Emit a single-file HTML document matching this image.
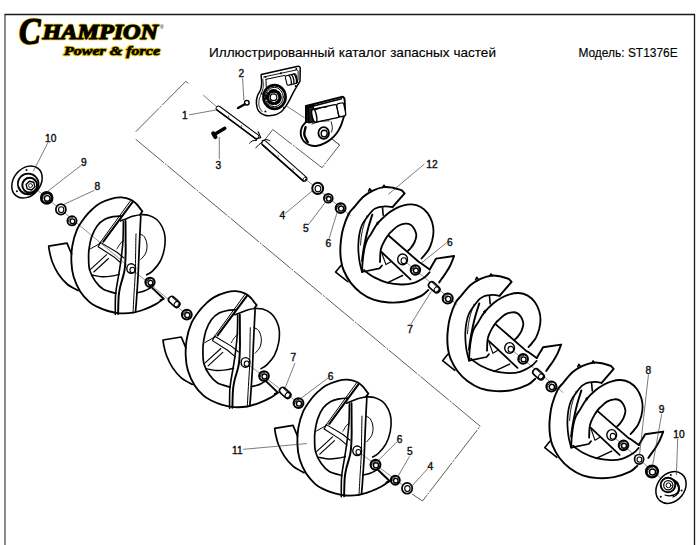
<!DOCTYPE html>
<html><head><meta charset="utf-8">
<style>
html,body{margin:0;padding:0;background:#fff;}
body{width:700px;height:545px;overflow:hidden;position:relative;}
svg{position:absolute;left:0;top:0;}
</style></head>
<body>
<svg width="700" height="545" viewBox="0 0 700 545">
<!-- frame -->
<path d="M5 545 V14.5" fill="none" stroke="#666" stroke-width="1.5"/>
<path d="M4.5 14.5 H694.5 V545" fill="none" stroke="#1a1a1a" stroke-width="1.3"/>
<!-- logo -->
<g font-family="Liberation Serif" font-weight="bold" font-style="italic">
<g fill="#000" stroke="#e8c800" stroke-width="2.4" stroke-linejoin="round">
<text x="19" y="44" font-size="38" textLength="21.5" lengthAdjust="spacingAndGlyphs">C</text>
<text x="42.5" y="39" font-size="20.5" textLength="115.5" lengthAdjust="spacingAndGlyphs">HAMPION</text>
<text x="64" y="55" font-size="13.5" textLength="96" lengthAdjust="spacingAndGlyphs">Power &amp; force</text>
</g>
<g fill="#000" stroke="#000" stroke-width="1.1" stroke-linejoin="round">
<text x="19" y="44" font-size="38" textLength="21.5" lengthAdjust="spacingAndGlyphs">C</text>
<text x="42.5" y="39" font-size="20.5" textLength="115.5" lengthAdjust="spacingAndGlyphs">HAMPION</text>
<text x="64" y="55" font-size="13.5" textLength="96" lengthAdjust="spacingAndGlyphs" stroke-width="0.6">Power &amp; force</text>
</g>
</g>
<text x="160" y="29" font-family="Liberation Sans" font-size="5" fill="#000">®</text>
<!-- header text -->
<text font-family="Liberation Sans" x="209" y="57.4" font-size="13.3" stroke="#000" stroke-width="0.15" textLength="287" lengthAdjust="spacingAndGlyphs">Иллюстрированный каталог запасных частей</text>
<text font-family="Liberation Sans" x="578.4" y="57.4" font-size="13.3" stroke="#000" stroke-width="0.15" textLength="99.3" lengthAdjust="spacingAndGlyphs">Модель: ST1376E</text>

<g id="diagram" fill="none" stroke="#000" stroke-linecap="round" stroke-linejoin="round">
<path d="M188.0,83.2 L185.7,81.4 L136.0,131.5" stroke-width="0.8" stroke-dasharray="36 2 1.2 2" stroke="#333"/>
<path d="M136.0,139.5 L480.2,426.2 L422.5,501.0 L412.3,494.2" stroke-width="0.8" stroke-dasharray="36 2 1.2 2" stroke="#333"/>
<path d="M265.4,139.1 L272.8,129.5 L322.0,167.7 L339.6,145.0 L325.0,133.5" stroke-width="0.8" stroke-dasharray="36 2 1.2 2" stroke="#333"/>
<path d="M203.5,95.3 L217.3,107.4" stroke-width="0.7" stroke="#444"/>
<path d="M285.7,105.5 L304.3,117.6" stroke-width="0.7" stroke="#444"/>
<path d="M328.0,135.7 L339.7,145.2" stroke-width="0.7" stroke="#444"/>
<path d="M27.5,181.8 L131.2,268.6" stroke-width="0.6" stroke="#444"/>
<path d="M131.2,268.6 L187.0,314.8" stroke-width="0.6" stroke="#444"/>
<path d="M245.5,362.4 L298.7,403.3" stroke-width="0.6" stroke="#444"/>
<path d="M357.2,450.8 L407.1,488.3" stroke-width="0.6" stroke="#444"/>
<path d="M306.0,179.5 L350.5,215.5" stroke-width="0.6" stroke="#444"/>
<path d="M402.6,259.4 L457.0,304.5" stroke-width="0.6" stroke="#444"/>
<path d="M509.6,348.0 L563.0,392.5" stroke-width="0.6" stroke="#444"/>
<path d="M611.7,435.0 L671.3,487.5" stroke-width="0.6" stroke="#444"/>
<g transform="translate(0,0)">
<path d="M140,214.7 L142.4,211.3 L140.6,209.2 C140.0,208.4 138.6,206.1 137.0,204.5 C135.4,202.9 133.6,201.0 131.0,199.8 C128.4,198.6 124.7,197.6 121.5,197.4 C118.3,197.2 115.5,197.6 111.9,198.6 C108.3,199.6 103.3,201.5 100.0,203.3 C96.7,205.1 94.5,207.2 92.0,209.5 C89.5,211.8 87.5,213.8 85.0,217.1 C82.5,220.4 79.1,224.8 77.0,229.6 C74.9,234.4 73.2,240.6 72.3,246.0 C71.4,251.4 71.2,256.9 71.4,262.0 C71.6,267.1 72.1,271.8 73.6,276.7 C75.1,281.6 77.6,287.2 80.2,291.4 C82.8,295.5 86.3,299.1 89.0,301.6 C91.7,304.1 93.2,304.8 96.4,306.4 C99.6,308.0 104.1,309.9 107.9,311.0 C111.7,312.1 115.1,313.0 119.3,313.3 C123.5,313.6 128.8,313.4 133.0,312.7 C137.2,312.0 140.6,310.7 144.4,309.3 C148.2,307.9 152.7,305.9 155.9,304.1 C159.1,302.4 162.2,299.7 163.5,298.8" stroke-width="1.83" />
<path d="M71.6,254.0 L67.0,243.2 L48.7,246.2 L48.7,246.2 C48.9,247.2 49.0,249.4 49.6,252.0 C50.2,254.6 50.9,258.4 52.3,262.0 C53.7,265.6 55.8,270.1 58.2,273.8 C60.7,277.5 63.7,281.2 67.0,284.0 C70.3,286.8 76.2,289.5 78.0,290.6" stroke-width="1.71" />
<path d="M122.0,216.0 C120.6,216.1 116.5,216.0 113.6,216.6 C110.7,217.2 107.5,217.8 104.8,219.3 C102.0,220.9 99.3,223.0 97.1,225.9 C94.9,228.8 92.9,233.2 91.6,236.9 C90.3,240.6 89.7,244.7 89.2,248.0 C88.7,251.3 88.5,253.3 88.6,257.0 C88.7,260.6 88.5,265.8 89.6,269.9 C90.7,273.9 93.0,278.1 95.3,281.3 C97.6,284.5 99.9,287.3 103.3,289.3 C106.7,291.3 113.8,292.6 115.9,293.3" stroke-width="1.71" />
<path d="M137.0,292.8 C137.8,292.6 140.4,292.3 142.0,291.8 C143.6,291.3 145.2,290.6 146.7,289.9 C148.2,289.2 150.3,287.9 151.0,287.5" stroke-width="1.59" />
<path d="M120.5,221.0 C121.6,220.6 124.9,219.2 127.1,218.4 C129.3,217.6 131.2,216.7 133.5,216.1 C135.8,215.5 138.4,214.8 140.9,214.7 C143.4,214.6 145.8,214.5 148.4,215.3 C151.0,216.1 154.4,217.6 156.7,219.5 C159.0,221.4 160.8,224.1 162.2,227.0 C163.6,229.9 164.7,233.0 165.0,236.7 C165.3,240.4 165.1,245.0 164.3,249.1 C163.5,253.2 162.1,257.8 160.1,261.5 C158.1,265.2 154.7,268.9 152.5,271.1 C150.3,273.3 147.7,274.2 146.7,274.8" stroke-width="1.59" />
<path d="M130.5,200.8 L99.0,244.2" stroke-width="1.0" />
<path d="M132.6,202.0 L103.3,241.6" stroke-width="2.07" />
<path d="M100.4,242.4 L117.0,252.3 L124.0,258.0" stroke-width="1.1" />
<path d="M98.2,246.8 L113.6,256.7 L121.0,263.0" stroke-width="1.1" />
<path d="M100.4,242.4 L98.2,246.8" stroke-width="1.1" />
<path d="M90.5,269.4 L106.6,254.7" stroke-width="1.1" />
<path d="M93.8,272.0 L108.5,258.5" stroke-width="1.1" />
<path d="M90.5,248.8 L100.8,243.0" stroke-width="1.0" />
<path d="M92.0,275.0 C93.7,275.3 98.9,276.5 102.1,276.7 C105.3,276.9 108.4,276.5 111.3,276.1 C114.2,275.7 118.0,274.7 119.3,274.4" stroke-width="1.46" />
<path d="M123.4,221.5 C123.3,224.6 123.3,234.4 123.0,240.0 C122.7,245.6 122.2,250.0 121.6,255.0 C121.0,260.0 120.3,265.1 119.5,270.0 C118.7,274.9 117.7,280.4 117.0,284.7 C116.3,289.0 115.8,291.0 115.5,296.0 C115.2,301.0 115.3,311.4 115.3,314.5" stroke-width="1.59" />
<path d="M125.5,221.0 C125.5,224.2 125.6,234.3 125.6,240.0 C125.6,245.7 125.8,249.8 125.6,255.0 C125.4,260.2 125.3,265.9 124.4,271.0 C123.5,276.1 121.4,281.7 120.4,285.9 C119.5,290.1 119.1,291.3 118.7,296.0 C118.3,300.7 118.2,311.0 118.1,314.0" stroke-width="1.95" />
<path d="M136.0,233.9 C135.9,237.4 135.7,248.7 135.6,255.0 C135.5,261.4 135.6,265.7 135.3,272.0 C135.1,278.3 134.5,285.9 134.1,292.7 C133.7,299.5 133.2,309.6 133.0,313.0" stroke-width="1.0" />
<path d="M140.8,216.0 C140.6,220.0 139.9,233.3 139.6,240.0 C139.3,246.7 139.1,250.4 138.9,256.0 C138.7,261.6 138.5,267.2 138.2,273.3 C137.9,279.4 137.4,286.2 137.0,292.7 C136.6,299.1 135.8,308.8 135.5,312.0" stroke-width="1.71" />
<path d="M139.5,233.9 C140.3,234.4 143.1,234.8 144.3,236.7 C145.6,238.5 146.8,242.2 147.0,245.0 C147.2,247.8 146.7,250.8 145.7,253.2 C144.7,255.6 141.6,258.4 140.8,259.4" stroke-width="1.0" />
<path d="M116.9,249.0 C117.4,248.2 118.9,245.5 120.0,244.0 C121.1,242.5 122.9,240.8 123.5,240.2" stroke-width="0.9" />
<path d="M152.4,288.1 L163.6,298.8 L160.5,300.2" stroke-width="1.95" />
</g>
<g transform="translate(114.3,93.8)">
<path d="M140,214.7 L142.4,211.3 L140.6,209.2 C140.0,208.4 138.6,206.1 137.0,204.5 C135.4,202.9 133.6,201.0 131.0,199.8 C128.4,198.6 124.7,197.6 121.5,197.4 C118.3,197.2 115.5,197.6 111.9,198.6 C108.3,199.6 103.3,201.5 100.0,203.3 C96.7,205.1 94.5,207.2 92.0,209.5 C89.5,211.8 87.5,213.8 85.0,217.1 C82.5,220.4 79.1,224.8 77.0,229.6 C74.9,234.4 73.2,240.6 72.3,246.0 C71.4,251.4 71.2,256.9 71.4,262.0 C71.6,267.1 72.1,271.8 73.6,276.7 C75.1,281.6 77.6,287.2 80.2,291.4 C82.8,295.5 86.3,299.1 89.0,301.6 C91.7,304.1 93.2,304.8 96.4,306.4 C99.6,308.0 104.1,309.9 107.9,311.0 C111.7,312.1 115.1,313.0 119.3,313.3 C123.5,313.6 128.8,313.4 133.0,312.7 C137.2,312.0 140.6,310.7 144.4,309.3 C148.2,307.9 152.7,305.9 155.9,304.1 C159.1,302.4 162.2,299.7 163.5,298.8" stroke-width="1.83" />
<path d="M71.6,254.0 L67.0,243.2 L48.7,246.2 L48.7,246.2 C48.9,247.2 49.0,249.4 49.6,252.0 C50.2,254.6 50.9,258.4 52.3,262.0 C53.7,265.6 55.8,270.1 58.2,273.8 C60.7,277.5 63.7,281.2 67.0,284.0 C70.3,286.8 76.2,289.5 78.0,290.6" stroke-width="1.71" />
<path d="M122.0,216.0 C120.6,216.1 116.5,216.0 113.6,216.6 C110.7,217.2 107.5,217.8 104.8,219.3 C102.0,220.9 99.3,223.0 97.1,225.9 C94.9,228.8 92.9,233.2 91.6,236.9 C90.3,240.6 89.7,244.7 89.2,248.0 C88.7,251.3 88.5,253.3 88.6,257.0 C88.7,260.6 88.5,265.8 89.6,269.9 C90.7,273.9 93.0,278.1 95.3,281.3 C97.6,284.5 99.9,287.3 103.3,289.3 C106.7,291.3 113.8,292.6 115.9,293.3" stroke-width="1.71" />
<path d="M137.0,292.8 C137.8,292.6 140.4,292.3 142.0,291.8 C143.6,291.3 145.2,290.6 146.7,289.9 C148.2,289.2 150.3,287.9 151.0,287.5" stroke-width="1.59" />
<path d="M120.5,221.0 C121.6,220.6 124.9,219.2 127.1,218.4 C129.3,217.6 131.2,216.7 133.5,216.1 C135.8,215.5 138.4,214.8 140.9,214.7 C143.4,214.6 145.8,214.5 148.4,215.3 C151.0,216.1 154.4,217.6 156.7,219.5 C159.0,221.4 160.8,224.1 162.2,227.0 C163.6,229.9 164.7,233.0 165.0,236.7 C165.3,240.4 165.1,245.0 164.3,249.1 C163.5,253.2 162.1,257.8 160.1,261.5 C158.1,265.2 154.7,268.9 152.5,271.1 C150.3,273.3 147.7,274.2 146.7,274.8" stroke-width="1.59" />
<path d="M130.5,200.8 L99.0,244.2" stroke-width="1.0" />
<path d="M132.6,202.0 L103.3,241.6" stroke-width="2.07" />
<path d="M100.4,242.4 L117.0,252.3 L124.0,258.0" stroke-width="1.1" />
<path d="M98.2,246.8 L113.6,256.7 L121.0,263.0" stroke-width="1.1" />
<path d="M100.4,242.4 L98.2,246.8" stroke-width="1.1" />
<path d="M90.5,269.4 L106.6,254.7" stroke-width="1.1" />
<path d="M93.8,272.0 L108.5,258.5" stroke-width="1.1" />
<path d="M90.5,248.8 L100.8,243.0" stroke-width="1.0" />
<path d="M92.0,275.0 C93.7,275.3 98.9,276.5 102.1,276.7 C105.3,276.9 108.4,276.5 111.3,276.1 C114.2,275.7 118.0,274.7 119.3,274.4" stroke-width="1.46" />
<path d="M123.4,221.5 C123.3,224.6 123.3,234.4 123.0,240.0 C122.7,245.6 122.2,250.0 121.6,255.0 C121.0,260.0 120.3,265.1 119.5,270.0 C118.7,274.9 117.7,280.4 117.0,284.7 C116.3,289.0 115.8,291.0 115.5,296.0 C115.2,301.0 115.3,311.4 115.3,314.5" stroke-width="1.59" />
<path d="M125.5,221.0 C125.5,224.2 125.6,234.3 125.6,240.0 C125.6,245.7 125.8,249.8 125.6,255.0 C125.4,260.2 125.3,265.9 124.4,271.0 C123.5,276.1 121.4,281.7 120.4,285.9 C119.5,290.1 119.1,291.3 118.7,296.0 C118.3,300.7 118.2,311.0 118.1,314.0" stroke-width="1.95" />
<path d="M136.0,233.9 C135.9,237.4 135.7,248.7 135.6,255.0 C135.5,261.4 135.6,265.7 135.3,272.0 C135.1,278.3 134.5,285.9 134.1,292.7 C133.7,299.5 133.2,309.6 133.0,313.0" stroke-width="1.0" />
<path d="M140.8,216.0 C140.6,220.0 139.9,233.3 139.6,240.0 C139.3,246.7 139.1,250.4 138.9,256.0 C138.7,261.6 138.5,267.2 138.2,273.3 C137.9,279.4 137.4,286.2 137.0,292.7 C136.6,299.1 135.8,308.8 135.5,312.0" stroke-width="1.71" />
<path d="M139.5,233.9 C140.3,234.4 143.1,234.8 144.3,236.7 C145.6,238.5 146.8,242.2 147.0,245.0 C147.2,247.8 146.7,250.8 145.7,253.2 C144.7,255.6 141.6,258.4 140.8,259.4" stroke-width="1.0" />
<path d="M116.9,249.0 C117.4,248.2 118.9,245.5 120.0,244.0 C121.1,242.5 122.9,240.8 123.5,240.2" stroke-width="0.9" />
<path d="M152.4,288.1 L163.6,298.8 L160.5,300.2" stroke-width="1.95" />
</g>
<g transform="translate(226,182.2)">
<path d="M140,214.7 L142.4,211.3 L140.6,209.2 C140.0,208.4 138.6,206.1 137.0,204.5 C135.4,202.9 133.6,201.0 131.0,199.8 C128.4,198.6 124.7,197.6 121.5,197.4 C118.3,197.2 115.5,197.6 111.9,198.6 C108.3,199.6 103.3,201.5 100.0,203.3 C96.7,205.1 94.5,207.2 92.0,209.5 C89.5,211.8 87.5,213.8 85.0,217.1 C82.5,220.4 79.1,224.8 77.0,229.6 C74.9,234.4 73.2,240.6 72.3,246.0 C71.4,251.4 71.2,256.9 71.4,262.0 C71.6,267.1 72.1,271.8 73.6,276.7 C75.1,281.6 77.6,287.2 80.2,291.4 C82.8,295.5 86.3,299.1 89.0,301.6 C91.7,304.1 93.2,304.8 96.4,306.4 C99.6,308.0 104.1,309.9 107.9,311.0 C111.7,312.1 115.1,313.0 119.3,313.3 C123.5,313.6 128.8,313.4 133.0,312.7 C137.2,312.0 140.6,310.7 144.4,309.3 C148.2,307.9 152.7,305.9 155.9,304.1 C159.1,302.4 162.2,299.7 163.5,298.8" stroke-width="1.83" />
<path d="M71.6,254.0 L67.0,243.2 L48.7,246.2 L48.7,246.2 C48.9,247.2 49.0,249.4 49.6,252.0 C50.2,254.6 50.9,258.4 52.3,262.0 C53.7,265.6 55.8,270.1 58.2,273.8 C60.7,277.5 63.7,281.2 67.0,284.0 C70.3,286.8 76.2,289.5 78.0,290.6" stroke-width="1.71" />
<path d="M122.0,216.0 C120.6,216.1 116.5,216.0 113.6,216.6 C110.7,217.2 107.5,217.8 104.8,219.3 C102.0,220.9 99.3,223.0 97.1,225.9 C94.9,228.8 92.9,233.2 91.6,236.9 C90.3,240.6 89.7,244.7 89.2,248.0 C88.7,251.3 88.5,253.3 88.6,257.0 C88.7,260.6 88.5,265.8 89.6,269.9 C90.7,273.9 93.0,278.1 95.3,281.3 C97.6,284.5 99.9,287.3 103.3,289.3 C106.7,291.3 113.8,292.6 115.9,293.3" stroke-width="1.71" />
<path d="M137.0,292.8 C137.8,292.6 140.4,292.3 142.0,291.8 C143.6,291.3 145.2,290.6 146.7,289.9 C148.2,289.2 150.3,287.9 151.0,287.5" stroke-width="1.59" />
<path d="M120.5,221.0 C121.6,220.6 124.9,219.2 127.1,218.4 C129.3,217.6 131.2,216.7 133.5,216.1 C135.8,215.5 138.4,214.8 140.9,214.7 C143.4,214.6 145.8,214.5 148.4,215.3 C151.0,216.1 154.4,217.6 156.7,219.5 C159.0,221.4 160.8,224.1 162.2,227.0 C163.6,229.9 164.7,233.0 165.0,236.7 C165.3,240.4 165.1,245.0 164.3,249.1 C163.5,253.2 162.1,257.8 160.1,261.5 C158.1,265.2 154.7,268.9 152.5,271.1 C150.3,273.3 147.7,274.2 146.7,274.8" stroke-width="1.59" />
<path d="M130.5,200.8 L99.0,244.2" stroke-width="1.0" />
<path d="M132.6,202.0 L103.3,241.6" stroke-width="2.07" />
<path d="M100.4,242.4 L117.0,252.3 L124.0,258.0" stroke-width="1.1" />
<path d="M98.2,246.8 L113.6,256.7 L121.0,263.0" stroke-width="1.1" />
<path d="M100.4,242.4 L98.2,246.8" stroke-width="1.1" />
<path d="M90.5,269.4 L106.6,254.7" stroke-width="1.1" />
<path d="M93.8,272.0 L108.5,258.5" stroke-width="1.1" />
<path d="M90.5,248.8 L100.8,243.0" stroke-width="1.0" />
<path d="M92.0,275.0 C93.7,275.3 98.9,276.5 102.1,276.7 C105.3,276.9 108.4,276.5 111.3,276.1 C114.2,275.7 118.0,274.7 119.3,274.4" stroke-width="1.46" />
<path d="M123.4,221.5 C123.3,224.6 123.3,234.4 123.0,240.0 C122.7,245.6 122.2,250.0 121.6,255.0 C121.0,260.0 120.3,265.1 119.5,270.0 C118.7,274.9 117.7,280.4 117.0,284.7 C116.3,289.0 115.8,291.0 115.5,296.0 C115.2,301.0 115.3,311.4 115.3,314.5" stroke-width="1.59" />
<path d="M125.5,221.0 C125.5,224.2 125.6,234.3 125.6,240.0 C125.6,245.7 125.8,249.8 125.6,255.0 C125.4,260.2 125.3,265.9 124.4,271.0 C123.5,276.1 121.4,281.7 120.4,285.9 C119.5,290.1 119.1,291.3 118.7,296.0 C118.3,300.7 118.2,311.0 118.1,314.0" stroke-width="1.95" />
<path d="M136.0,233.9 C135.9,237.4 135.7,248.7 135.6,255.0 C135.5,261.4 135.6,265.7 135.3,272.0 C135.1,278.3 134.5,285.9 134.1,292.7 C133.7,299.5 133.2,309.6 133.0,313.0" stroke-width="1.0" />
<path d="M140.8,216.0 C140.6,220.0 139.9,233.3 139.6,240.0 C139.3,246.7 139.1,250.4 138.9,256.0 C138.7,261.6 138.5,267.2 138.2,273.3 C137.9,279.4 137.4,286.2 137.0,292.7 C136.6,299.1 135.8,308.8 135.5,312.0" stroke-width="1.71" />
<path d="M139.5,233.9 C140.3,234.4 143.1,234.8 144.3,236.7 C145.6,238.5 146.8,242.2 147.0,245.0 C147.2,247.8 146.7,250.8 145.7,253.2 C144.7,255.6 141.6,258.4 140.8,259.4" stroke-width="1.0" />
<path d="M116.9,249.0 C117.4,248.2 118.9,245.5 120.0,244.0 C121.1,242.5 122.9,240.8 123.5,240.2" stroke-width="0.9" />
<path d="M152.4,288.1 L163.6,298.8 L160.5,300.2" stroke-width="1.95" />
</g>
<g transform="translate(0,0)">
<path d="M429.7,269.5 L436.1,258.6 L454.1,256 L454.1,256.0 C453.5,257.5 451.8,262.3 450.5,265.0 C449.2,267.7 447.8,269.9 446.4,272.1 C445.0,274.4 443.1,276.8 441.9,278.5 C440.7,280.2 439.6,281.8 439.2,282.4" stroke-width="1.95" />
<path d="M428.3,290.1 C427.1,291.1 424.9,294.1 421.0,296.0 C417.1,297.9 410.4,300.4 405.0,301.5 C399.6,302.6 394.1,302.8 388.9,302.5 C383.6,302.2 378.2,301.3 373.5,299.7 C368.8,298.1 364.6,295.6 360.7,292.7 C356.8,289.8 353.3,286.2 350.4,282.4 C347.5,278.6 345.1,273.7 343.5,270.0 C341.9,266.3 341.5,263.3 341.0,260.0 C340.5,256.7 340.3,253.3 340.3,250.0 C340.3,246.7 340.6,243.5 341.0,240.0 C341.4,236.5 341.8,233.3 343.0,229.0 C344.2,224.7 346.6,218.0 348.5,214.3 C350.4,210.6 351.8,209.9 354.3,207.0 C356.8,204.1 360.1,199.5 363.3,196.7 C366.5,193.9 370.1,191.9 373.5,190.3 C376.9,188.7 380.6,187.5 383.8,187.1 C387.0,186.7 389.8,187.2 392.8,187.7 C395.8,188.2 400.3,189.9 401.8,190.3 L404.6,193.3 L392.5,207.2" stroke-width="1.95" />
<path d="M392.5,207.2 C391.4,207.0 388.0,206.4 386.0,206.3 C384.0,206.2 382.2,206.5 380.5,206.8 C378.8,207.1 377.4,207.5 376.0,208.2 C374.6,208.9 373.7,209.3 372.2,210.8 C370.7,212.3 368.8,214.8 367.1,217.2 C365.4,219.6 363.3,222.2 362.0,225.0 C360.7,227.8 360.0,230.7 359.4,234.0 C358.8,237.3 358.4,241.5 358.3,245.0 C358.2,248.5 358.4,251.8 358.7,255.0 C359.0,258.2 359.4,261.2 360.0,264.0 C360.6,266.8 361.7,270.7 362.0,272.0 L379.6,268.4 L382,265.5" stroke-width="1.71" />
<path d="M362.0,272.0 C362.1,270.5 362.2,266.0 362.5,263.0 C362.8,260.0 363.1,256.8 363.5,254.0 C363.9,251.2 364.3,248.8 364.9,246.5 C365.5,244.2 366.1,242.1 367.1,240.0 C368.1,237.9 369.3,236.6 371.0,233.9 C372.7,231.2 374.8,226.9 377.4,223.7 C380.0,220.5 383.5,217.2 386.4,214.7 C389.3,212.2 392.3,210.4 395.0,208.9 C397.7,207.4 399.9,206.4 402.7,205.7 C405.5,204.9 408.7,204.2 411.7,204.4 C414.7,204.6 418.0,205.5 420.7,207.0 C423.4,208.5 425.9,210.8 427.8,213.4 C429.7,216.0 431.2,219.4 432.2,222.4 C433.1,225.4 433.5,228.4 433.5,231.4 C433.5,234.4 432.9,237.5 432.2,240.4 C431.4,243.3 430.2,246.7 429.0,249.0 C427.8,251.3 426.2,252.9 425.0,254.5 C423.8,256.1 422.1,257.8 421.5,258.5" stroke-width="1.83" />
<path d="M364.0,270.0 C364.4,270.4 364.9,271.1 366.6,272.3 C368.3,273.5 370.9,275.7 374.3,277.4 C377.7,279.1 382.6,281.4 387.1,282.6 C391.6,283.8 397.0,284.4 401.3,284.5 C405.6,284.6 409.0,284.4 412.9,283.2 C416.8,282.0 421.6,279.2 424.4,277.4 C427.2,275.6 428.7,273.1 429.6,272.3" stroke-width="1.83" />
<path d="M380.0,262.0 C380.1,260.3 380.2,254.3 380.5,251.7 C380.8,249.1 381.1,248.2 381.9,246.2 C382.7,244.2 384.0,241.8 385.1,239.8 C386.2,237.8 387.7,235.7 388.8,234.3 C389.9,232.9 390.0,232.9 391.5,231.5 C393.0,230.1 395.6,227.3 397.9,226.0 C400.2,224.7 403.1,223.9 405.3,223.7 C407.5,223.5 409.6,224.2 411.0,225.0 C412.4,225.8 413.2,227.3 414.0,228.5 C414.8,229.7 415.2,230.7 415.6,232.0 C416.0,233.3 416.5,234.3 416.3,236.1 C416.1,237.8 415.3,240.5 414.4,242.5 C413.5,244.5 411.9,246.6 410.8,248.0 C409.7,249.4 408.5,250.3 408.0,250.8" stroke-width="1.83" />
<path d="M387.1,282.8 L402.6,275.5" stroke-width="1.46" />
<path d="M388.5,235.5 L419.5,262.5 L421.0,263.2 L429.7,269.5" stroke-width="1.83" />
<path d="M381.5,252.0 L410.5,279.3" stroke-width="1.83" />
<path d="M382.0,253.5 L385.9,264.6 L390.4,262.0" stroke-width="1.1" />
<path d="M368.5,191.2 L369.7,188.6 L371.2,190.4" stroke-width="1.46" fill="#000"/>
<path d="M382.6,187.6 L384.0,185.2 L385.4,187.4" stroke-width="1.46" fill="#000"/>
<path d="M340.8,265.7 L335.6,272.1 L347.8,281.7" stroke-width="1.59" />
<path d="M372.3,214.8 C371.7,216.8 369.6,223.0 368.5,227.0 C367.4,231.0 366.4,235.2 365.6,239.0 C364.8,242.8 364.1,246.3 363.5,250.0 C362.9,253.7 362.2,259.2 362.0,261.0" stroke-width="1.95" />
<path d="M367.1,215.5 C366.5,217.2 364.4,222.8 363.5,226.0 C362.6,229.2 362.0,231.8 361.5,235.0 C361.0,238.2 360.7,243.3 360.5,245.0" stroke-width="0.9" />
<path d="M382.5,207.6 L383.2,215.3" stroke-width="1.59" />
<path d="M376.5,223.0 L378.5,221.5 L378.0,224.5" stroke-width="1.0" fill="#000"/>
</g>
<g transform="translate(107,88.6)">
<path d="M429.7,269.5 L436.1,258.6 L454.1,256 L454.1,256.0 C453.5,257.5 451.8,262.3 450.5,265.0 C449.2,267.7 447.8,269.9 446.4,272.1 C445.0,274.4 443.1,276.8 441.9,278.5 C440.7,280.2 439.6,281.8 439.2,282.4" stroke-width="1.95" />
<path d="M428.3,290.1 C427.1,291.1 424.9,294.1 421.0,296.0 C417.1,297.9 410.4,300.4 405.0,301.5 C399.6,302.6 394.1,302.8 388.9,302.5 C383.6,302.2 378.2,301.3 373.5,299.7 C368.8,298.1 364.6,295.6 360.7,292.7 C356.8,289.8 353.3,286.2 350.4,282.4 C347.5,278.6 345.1,273.7 343.5,270.0 C341.9,266.3 341.5,263.3 341.0,260.0 C340.5,256.7 340.3,253.3 340.3,250.0 C340.3,246.7 340.6,243.5 341.0,240.0 C341.4,236.5 341.8,233.3 343.0,229.0 C344.2,224.7 346.6,218.0 348.5,214.3 C350.4,210.6 351.8,209.9 354.3,207.0 C356.8,204.1 360.1,199.5 363.3,196.7 C366.5,193.9 370.1,191.9 373.5,190.3 C376.9,188.7 380.6,187.5 383.8,187.1 C387.0,186.7 389.8,187.2 392.8,187.7 C395.8,188.2 400.3,189.9 401.8,190.3 L404.6,193.3 L392.5,207.2" stroke-width="1.95" />
<path d="M392.5,207.2 C391.4,207.0 388.0,206.4 386.0,206.3 C384.0,206.2 382.2,206.5 380.5,206.8 C378.8,207.1 377.4,207.5 376.0,208.2 C374.6,208.9 373.7,209.3 372.2,210.8 C370.7,212.3 368.8,214.8 367.1,217.2 C365.4,219.6 363.3,222.2 362.0,225.0 C360.7,227.8 360.0,230.7 359.4,234.0 C358.8,237.3 358.4,241.5 358.3,245.0 C358.2,248.5 358.4,251.8 358.7,255.0 C359.0,258.2 359.4,261.2 360.0,264.0 C360.6,266.8 361.7,270.7 362.0,272.0 L379.6,268.4 L382,265.5" stroke-width="1.71" />
<path d="M362.0,272.0 C362.1,270.5 362.2,266.0 362.5,263.0 C362.8,260.0 363.1,256.8 363.5,254.0 C363.9,251.2 364.3,248.8 364.9,246.5 C365.5,244.2 366.1,242.1 367.1,240.0 C368.1,237.9 369.3,236.6 371.0,233.9 C372.7,231.2 374.8,226.9 377.4,223.7 C380.0,220.5 383.5,217.2 386.4,214.7 C389.3,212.2 392.3,210.4 395.0,208.9 C397.7,207.4 399.9,206.4 402.7,205.7 C405.5,204.9 408.7,204.2 411.7,204.4 C414.7,204.6 418.0,205.5 420.7,207.0 C423.4,208.5 425.9,210.8 427.8,213.4 C429.7,216.0 431.2,219.4 432.2,222.4 C433.1,225.4 433.5,228.4 433.5,231.4 C433.5,234.4 432.9,237.5 432.2,240.4 C431.4,243.3 430.2,246.7 429.0,249.0 C427.8,251.3 426.2,252.9 425.0,254.5 C423.8,256.1 422.1,257.8 421.5,258.5" stroke-width="1.83" />
<path d="M364.0,270.0 C364.4,270.4 364.9,271.1 366.6,272.3 C368.3,273.5 370.9,275.7 374.3,277.4 C377.7,279.1 382.6,281.4 387.1,282.6 C391.6,283.8 397.0,284.4 401.3,284.5 C405.6,284.6 409.0,284.4 412.9,283.2 C416.8,282.0 421.6,279.2 424.4,277.4 C427.2,275.6 428.7,273.1 429.6,272.3" stroke-width="1.83" />
<path d="M380.0,262.0 C380.1,260.3 380.2,254.3 380.5,251.7 C380.8,249.1 381.1,248.2 381.9,246.2 C382.7,244.2 384.0,241.8 385.1,239.8 C386.2,237.8 387.7,235.7 388.8,234.3 C389.9,232.9 390.0,232.9 391.5,231.5 C393.0,230.1 395.6,227.3 397.9,226.0 C400.2,224.7 403.1,223.9 405.3,223.7 C407.5,223.5 409.6,224.2 411.0,225.0 C412.4,225.8 413.2,227.3 414.0,228.5 C414.8,229.7 415.2,230.7 415.6,232.0 C416.0,233.3 416.5,234.3 416.3,236.1 C416.1,237.8 415.3,240.5 414.4,242.5 C413.5,244.5 411.9,246.6 410.8,248.0 C409.7,249.4 408.5,250.3 408.0,250.8" stroke-width="1.83" />
<path d="M387.1,282.8 L402.6,275.5" stroke-width="1.46" />
<path d="M388.5,235.5 L419.5,262.5 L421.0,263.2 L429.7,269.5" stroke-width="1.83" />
<path d="M381.5,252.0 L410.5,279.3" stroke-width="1.83" />
<path d="M382.0,253.5 L385.9,264.6 L390.4,262.0" stroke-width="1.1" />
<path d="M368.5,191.2 L369.7,188.6 L371.2,190.4" stroke-width="1.46" fill="#000"/>
<path d="M382.6,187.6 L384.0,185.2 L385.4,187.4" stroke-width="1.46" fill="#000"/>
<path d="M340.8,265.7 L335.6,272.1 L347.8,281.7" stroke-width="1.59" />
<path d="M372.3,214.8 C371.7,216.8 369.6,223.0 368.5,227.0 C367.4,231.0 366.4,235.2 365.6,239.0 C364.8,242.8 364.1,246.3 363.5,250.0 C362.9,253.7 362.2,259.2 362.0,261.0" stroke-width="1.95" />
<path d="M367.1,215.5 C366.5,217.2 364.4,222.8 363.5,226.0 C362.6,229.2 362.0,231.8 361.5,235.0 C361.0,238.2 360.7,243.3 360.5,245.0" stroke-width="0.9" />
<path d="M382.5,207.6 L383.2,215.3" stroke-width="1.59" />
<path d="M376.5,223.0 L378.5,221.5 L378.0,224.5" stroke-width="1.0" fill="#000"/>
</g>
<g transform="translate(209.1,175.6)">
<path d="M429.7,269.5 L436.1,258.6 L454.1,256 L454.1,256.0 C453.5,257.5 451.8,262.3 450.5,265.0 C449.2,267.7 447.8,269.9 446.4,272.1 C445.0,274.4 443.1,276.8 441.9,278.5 C440.7,280.2 439.6,281.8 439.2,282.4" stroke-width="1.95" />
<path d="M428.3,290.1 C427.1,291.1 424.9,294.1 421.0,296.0 C417.1,297.9 410.4,300.4 405.0,301.5 C399.6,302.6 394.1,302.8 388.9,302.5 C383.6,302.2 378.2,301.3 373.5,299.7 C368.8,298.1 364.6,295.6 360.7,292.7 C356.8,289.8 353.3,286.2 350.4,282.4 C347.5,278.6 345.1,273.7 343.5,270.0 C341.9,266.3 341.5,263.3 341.0,260.0 C340.5,256.7 340.3,253.3 340.3,250.0 C340.3,246.7 340.6,243.5 341.0,240.0 C341.4,236.5 341.8,233.3 343.0,229.0 C344.2,224.7 346.6,218.0 348.5,214.3 C350.4,210.6 351.8,209.9 354.3,207.0 C356.8,204.1 360.1,199.5 363.3,196.7 C366.5,193.9 370.1,191.9 373.5,190.3 C376.9,188.7 380.6,187.5 383.8,187.1 C387.0,186.7 389.8,187.2 392.8,187.7 C395.8,188.2 400.3,189.9 401.8,190.3 L404.6,193.3 L392.5,207.2" stroke-width="1.95" />
<path d="M392.5,207.2 C391.4,207.0 388.0,206.4 386.0,206.3 C384.0,206.2 382.2,206.5 380.5,206.8 C378.8,207.1 377.4,207.5 376.0,208.2 C374.6,208.9 373.7,209.3 372.2,210.8 C370.7,212.3 368.8,214.8 367.1,217.2 C365.4,219.6 363.3,222.2 362.0,225.0 C360.7,227.8 360.0,230.7 359.4,234.0 C358.8,237.3 358.4,241.5 358.3,245.0 C358.2,248.5 358.4,251.8 358.7,255.0 C359.0,258.2 359.4,261.2 360.0,264.0 C360.6,266.8 361.7,270.7 362.0,272.0 L379.6,268.4 L382,265.5" stroke-width="1.71" />
<path d="M362.0,272.0 C362.1,270.5 362.2,266.0 362.5,263.0 C362.8,260.0 363.1,256.8 363.5,254.0 C363.9,251.2 364.3,248.8 364.9,246.5 C365.5,244.2 366.1,242.1 367.1,240.0 C368.1,237.9 369.3,236.6 371.0,233.9 C372.7,231.2 374.8,226.9 377.4,223.7 C380.0,220.5 383.5,217.2 386.4,214.7 C389.3,212.2 392.3,210.4 395.0,208.9 C397.7,207.4 399.9,206.4 402.7,205.7 C405.5,204.9 408.7,204.2 411.7,204.4 C414.7,204.6 418.0,205.5 420.7,207.0 C423.4,208.5 425.9,210.8 427.8,213.4 C429.7,216.0 431.2,219.4 432.2,222.4 C433.1,225.4 433.5,228.4 433.5,231.4 C433.5,234.4 432.9,237.5 432.2,240.4 C431.4,243.3 430.2,246.7 429.0,249.0 C427.8,251.3 426.2,252.9 425.0,254.5 C423.8,256.1 422.1,257.8 421.5,258.5" stroke-width="1.83" />
<path d="M364.0,270.0 C364.4,270.4 364.9,271.1 366.6,272.3 C368.3,273.5 370.9,275.7 374.3,277.4 C377.7,279.1 382.6,281.4 387.1,282.6 C391.6,283.8 397.0,284.4 401.3,284.5 C405.6,284.6 409.0,284.4 412.9,283.2 C416.8,282.0 421.6,279.2 424.4,277.4 C427.2,275.6 428.7,273.1 429.6,272.3" stroke-width="1.83" />
<path d="M380.0,262.0 C380.1,260.3 380.2,254.3 380.5,251.7 C380.8,249.1 381.1,248.2 381.9,246.2 C382.7,244.2 384.0,241.8 385.1,239.8 C386.2,237.8 387.7,235.7 388.8,234.3 C389.9,232.9 390.0,232.9 391.5,231.5 C393.0,230.1 395.6,227.3 397.9,226.0 C400.2,224.7 403.1,223.9 405.3,223.7 C407.5,223.5 409.6,224.2 411.0,225.0 C412.4,225.8 413.2,227.3 414.0,228.5 C414.8,229.7 415.2,230.7 415.6,232.0 C416.0,233.3 416.5,234.3 416.3,236.1 C416.1,237.8 415.3,240.5 414.4,242.5 C413.5,244.5 411.9,246.6 410.8,248.0 C409.7,249.4 408.5,250.3 408.0,250.8" stroke-width="1.83" />
<path d="M387.1,282.8 L402.6,275.5" stroke-width="1.46" />
<path d="M388.5,235.5 L419.5,262.5 L421.0,263.2 L429.7,269.5" stroke-width="1.83" />
<path d="M381.5,252.0 L410.5,279.3" stroke-width="1.83" />
<path d="M382.0,253.5 L385.9,264.6 L390.4,262.0" stroke-width="1.1" />
<path d="M368.5,191.2 L369.7,188.6 L371.2,190.4" stroke-width="1.46" fill="#000"/>
<path d="M382.6,187.6 L384.0,185.2 L385.4,187.4" stroke-width="1.46" fill="#000"/>
<path d="M340.8,265.7 L335.6,272.1 L347.8,281.7" stroke-width="1.59" />
<path d="M372.3,214.8 C371.7,216.8 369.6,223.0 368.5,227.0 C367.4,231.0 366.4,235.2 365.6,239.0 C364.8,242.8 364.1,246.3 363.5,250.0 C362.9,253.7 362.2,259.2 362.0,261.0" stroke-width="1.95" />
<path d="M367.1,215.5 C366.5,217.2 364.4,222.8 363.5,226.0 C362.6,229.2 362.0,231.8 361.5,235.0 C361.0,238.2 360.7,243.3 360.5,245.0" stroke-width="0.9" />
<path d="M382.5,207.6 L383.2,215.3" stroke-width="1.59" />
<path d="M376.5,223.0 L378.5,221.5 L378.0,224.5" stroke-width="1.0" fill="#000"/>
</g>
<g transform="translate(131.2,268.6) rotate(0)"><ellipse cx="0" cy="0" rx="4.4" ry="4.8" stroke-width="1.4" fill="#fff"/><ellipse cx="1.2" cy="1.3" rx="2.42" ry="2.64" stroke-width="1.1" fill="#fff"/></g>
<g transform="translate(245.5,362.4) rotate(0)"><ellipse cx="0" cy="0" rx="4.4" ry="4.8" stroke-width="1.4" fill="#fff"/><ellipse cx="1.2" cy="1.3" rx="2.42" ry="2.64" stroke-width="1.1" fill="#fff"/></g>
<g transform="translate(357.2,450.8) rotate(0)"><ellipse cx="0" cy="0" rx="4.4" ry="4.8" stroke-width="1.4" fill="#fff"/><ellipse cx="1.2" cy="1.3" rx="2.42" ry="2.64" stroke-width="1.1" fill="#fff"/></g>
<g transform="translate(402.6,259.4) rotate(0)"><ellipse cx="0" cy="0" rx="4.9" ry="5.4" stroke-width="1.4" fill="#fff"/><ellipse cx="1.2" cy="1.3" rx="2.70" ry="2.97" stroke-width="1.1" fill="#fff"/></g>
<g transform="translate(509.6,348) rotate(0)"><ellipse cx="0" cy="0" rx="4.9" ry="5.4" stroke-width="1.4" fill="#fff"/><ellipse cx="1.2" cy="1.3" rx="2.70" ry="2.97" stroke-width="1.1" fill="#fff"/></g>
<g transform="translate(611.7,435) rotate(0)"><ellipse cx="0" cy="0" rx="4.9" ry="5.4" stroke-width="1.4" fill="#fff"/><ellipse cx="1.2" cy="1.3" rx="2.70" ry="2.97" stroke-width="1.1" fill="#fff"/></g>
<g transform="translate(27,182)"><ellipse cx="0" cy="0" rx="13.4" ry="17.6" transform="rotate(39)" stroke-width="1.5" fill="#fff"/><circle cx="1.2" cy="2.0" r="10.4" stroke-width="1.6"/><path d="M-7.8,5.0 A9.5,9.5 0 0 0 6.2,10.5" stroke-width="1.0"/><circle cx="2.7" cy="3.2" r="7.4" stroke-width="2.0"/><polygon points="7.9,4.8 4.7,8.0 0.2,6.9 -0.9,2.4 2.3,-0.8 6.8,0.3" stroke-width="1.4"/><circle cx="3.5" cy="3.6" r="2.0" stroke-width="0.8"/><circle cx="-0.5" cy="-12" r="1.0" fill="#000" stroke="none"/><circle cx="-10.1" cy="9.2" r="1.0" fill="#000" stroke="none"/></g>
<circle cx="46.7" cy="197.9" r="5.4" stroke-width="2.8" fill="#fff"/><circle cx="47.2" cy="198.4" r="2.81" stroke-width="1.4"/><path d="M42.7,198.4 A4.2,4.2 0 0 1 47.2,193.8" stroke-width="0.9"/>
<ellipse cx="60.9" cy="209.4" rx="5.03" ry="5.3" stroke-width="1.7" fill="#fff"/><ellipse cx="61.199999999999996" cy="209.70000000000002" rx="2.65" ry="2.92" stroke-width="1.1"/>
<circle cx="72" cy="220.8" r="4.6" stroke-width="1.8" fill="#fff"/><circle cx="72.5" cy="221.3" r="2.39" stroke-width="1.4"/><path d="M68.5,221.3 A3.6,3.6 0 0 1 72.5,217.4" stroke-width="0.9"/>
<circle cx="150" cy="282.3" r="4.6" stroke-width="2.1" fill="#fff"/><circle cx="150.5" cy="282.8" r="2.39" stroke-width="1.4"/><path d="M146.6,282.8 A3.6,3.6 0 0 1 150.5,278.9" stroke-width="0.9"/>
<g transform="translate(174.2,301.9) rotate(42)"><rect x="-6.5" y="-3.3" width="13" height="6.6" rx="3.3" stroke-width="1.6" fill="#fff"/><ellipse cx="3.2" cy="0" rx="2.18" ry="2.77" stroke-width="1.0"/><path d="M-4.5,-2.0999999999999996 L2.5,-2.0999999999999996" stroke-width="0.7"/></g>
<circle cx="186.8" cy="314.6" r="4.9" stroke-width="2.1" fill="#fff"/><circle cx="187.3" cy="315.1" r="2.55" stroke-width="1.4"/><path d="M183.1,315.1 A3.8,3.8 0 0 1 187.3,310.9" stroke-width="0.9"/>
<circle cx="264" cy="376" r="4.8" stroke-width="2.1" fill="#fff"/><circle cx="264.5" cy="376.5" r="2.50" stroke-width="1.4"/><path d="M260.4,376.5 A3.7,3.7 0 0 1 264.5,372.4" stroke-width="0.9"/>
<g transform="translate(285.2,392.9) rotate(42)"><rect x="-6.5" y="-3.3" width="13" height="6.6" rx="3.3" stroke-width="1.6" fill="#fff"/><ellipse cx="3.2" cy="0" rx="2.18" ry="2.77" stroke-width="1.0"/><path d="M-4.5,-2.0999999999999996 L2.5,-2.0999999999999996" stroke-width="0.7"/></g>
<circle cx="298.5" cy="403.1" r="4.9" stroke-width="2.1" fill="#fff"/><circle cx="299.0" cy="403.6" r="2.55" stroke-width="1.4"/><path d="M294.8,403.6 A3.8,3.8 0 0 1 299.0,399.4" stroke-width="0.9"/>
<circle cx="375.5" cy="464.8" r="4.9" stroke-width="2.1" fill="#fff"/><circle cx="376.0" cy="465.3" r="2.55" stroke-width="1.4"/><path d="M371.8,465.3 A3.8,3.8 0 0 1 376.0,461.1" stroke-width="0.9"/>
<circle cx="395.3" cy="480.2" r="4.4" stroke-width="2.1" fill="#fff"/><circle cx="395.8" cy="480.7" r="2.29" stroke-width="1.4"/><path d="M392.0,480.6 A3.4,3.4 0 0 1 395.7,476.9" stroke-width="0.9"/>
<ellipse cx="407.1" cy="488.3" rx="5.13" ry="5.4" stroke-width="1.7" fill="#fff"/><ellipse cx="407.40000000000003" cy="488.6" rx="2.70" ry="2.97" stroke-width="1.1"/>
<ellipse cx="317.7" cy="188.4" rx="5.42" ry="5.7" stroke-width="2.0" fill="#fff"/><ellipse cx="318.0" cy="188.70000000000002" rx="2.85" ry="3.14" stroke-width="1.1"/>
<circle cx="328.3" cy="198.3" r="4.4" stroke-width="1.8" fill="#fff"/><circle cx="328.8" cy="198.8" r="2.29" stroke-width="1.4"/><path d="M325.0,198.7 A3.4,3.4 0 0 1 328.7,195.0" stroke-width="0.9"/>
<circle cx="340.6" cy="208.1" r="4.9" stroke-width="2.1" fill="#fff"/><circle cx="341.1" cy="208.6" r="2.55" stroke-width="1.4"/><path d="M336.9,208.6 A3.8,3.8 0 0 1 341.1,204.4" stroke-width="0.9"/>
<circle cx="415.4" cy="270" r="4.7" stroke-width="2.1" fill="#fff"/><circle cx="415.9" cy="270.5" r="2.44" stroke-width="1.4"/><path d="M411.9,270.5 A3.7,3.7 0 0 1 415.9,266.5" stroke-width="0.9"/>
<g transform="translate(434.2,287.3) rotate(42)"><rect x="-6.5" y="-3.3" width="13" height="6.6" rx="3.3" stroke-width="1.6" fill="#fff"/><ellipse cx="3.2" cy="0" rx="2.18" ry="2.77" stroke-width="1.0"/><path d="M-4.5,-2.0999999999999996 L2.5,-2.0999999999999996" stroke-width="0.7"/></g>
<circle cx="447.7" cy="298.5" r="5.0" stroke-width="2.1" fill="#fff"/><circle cx="448.2" cy="299.0" r="2.60" stroke-width="1.4"/><path d="M443.9,299.0 A3.9,3.9 0 0 1 448.2,294.8" stroke-width="0.9"/>
<circle cx="523.1" cy="358.9" r="4.8" stroke-width="2.1" fill="#fff"/><circle cx="523.6" cy="359.4" r="2.50" stroke-width="1.4"/><path d="M519.5,359.4 A3.7,3.7 0 0 1 523.6,355.3" stroke-width="0.9"/>
<g transform="translate(538.5,374.3) rotate(42)"><rect x="-6.5" y="-3.3" width="13" height="6.6" rx="3.3" stroke-width="1.6" fill="#fff"/><ellipse cx="3.2" cy="0" rx="2.18" ry="2.77" stroke-width="1.0"/><path d="M-4.5,-2.0999999999999996 L2.5,-2.0999999999999996" stroke-width="0.7"/></g>
<circle cx="551.4" cy="386.5" r="5.0" stroke-width="2.1" fill="#fff"/><circle cx="551.9" cy="387.0" r="2.60" stroke-width="1.4"/><path d="M547.6,387.0 A3.9,3.9 0 0 1 551.9,382.8" stroke-width="0.9"/>
<circle cx="623.5" cy="445.3" r="4.8" stroke-width="2.1" fill="#fff"/><circle cx="624.0" cy="445.8" r="2.50" stroke-width="1.4"/><path d="M619.9,445.8 A3.7,3.7 0 0 1 624.0,441.7" stroke-width="0.9"/>
<ellipse cx="639.1" cy="459.3" rx="4.56" ry="4.8" stroke-width="1.7" fill="#fff"/><ellipse cx="639.4" cy="459.6" rx="2.40" ry="2.64" stroke-width="1.1"/>
<circle cx="652" cy="471.5" r="5.8" stroke-width="2.6" fill="#fff"/><circle cx="652.5" cy="472.0" r="3.02" stroke-width="1.4"/><path d="M647.6,472.1 A4.5,4.5 0 0 1 652.6,467.1" stroke-width="0.9"/>
<g transform="translate(671,487.5)"><ellipse cx="0" cy="0" rx="13.6" ry="17.2" transform="rotate(39)" stroke-width="1.5" fill="#fff"/><path d="M-4,-8 A9,9 0 1 1 2,9.5" stroke-width="1.3"/><path d="M1,-7 A8.5,8.5 0 0 1 6.5,6" stroke-width="2.0"/><circle cx="-3" cy="-2.5" r="7.3" stroke-width="1.9" fill="#fff"/><circle cx="-2.7" cy="-2.3" r="4.6" stroke-width="1.2"/><circle cx="-2.5" cy="-2.2" r="2.4" stroke-width="1.0"/><path d="M-6,7.5 Q1,10 7,5" stroke-width="1.2"/><circle cx="-0.2" cy="-12.4" r="1.0" fill="#000" stroke="none"/><circle cx="10.6" cy="3" r="1.0" fill="#000" stroke="none"/><circle cx="-10.2" cy="9.2" r="1.0" fill="#000" stroke="none"/></g>
<g transform="translate(217.4,107.6) rotate(36.5)"><rect x="-1" y="-2.3" width="52" height="4.6" rx="2.3" stroke-width="1.0" fill="#fff"/><path d="M1,2.2 L50,2.2" stroke-width="1.6"/><path d="M14,0.3 h0.6 M30,0.3 h0.6" stroke-width="0.9"/></g>
<path d="M258.2,131.8 L260.8,137.6 L255.0,138.8" stroke-width="1.1" />
<path d="M249.5,143.3 C250.0,142.9 251.3,141.3 252.5,140.8 C253.7,140.3 255.8,140.6 256.5,140.5" stroke-width="1.0" />
<g transform="translate(263.2,142.2) rotate(41.5)"><rect x="-1" y="-2.5" width="58.5" height="5" rx="2.5" stroke-width="1.0" fill="#fff"/><path d="M1,2.4 L55.5,2.4" stroke-width="1.7"/><ellipse cx="55.3" cy="0" rx="1.3" ry="2" stroke-width="0.8"/><path d="M20,0.3 h0.6 M40,0.3 h0.6" stroke-width="0.9"/></g>
<path d="M255.9,147.9 C256.4,147.3 258.0,145.4 259.0,144.5 C260.0,143.6 261.5,142.8 262.0,142.5" stroke-width="1.0" />
<path d="M262.0,140.8 C262.7,140.6 264.7,139.5 266.0,139.5 C267.3,139.5 269.2,140.6 269.8,140.8" stroke-width="1.0" />
<circle cx="246.8" cy="102.7" r="2.3" stroke-width="1.4"/>
<path d="M244.8,104.2 L238.0,108.0" stroke-width="2.4" />
<path d="M216.5,133.3 L224.8,128.3" stroke-width="3.4" />
<path d="M213.3,133.4 L215.4,137.0" stroke-width="4.2" />
<path d="M261.2,74.6 L298,66.3 Q300.3,66.2 300.2,68.6 L300,81.1 L300.0,81.1 C299.5,82.0 298.0,84.4 296.8,86.5 C295.6,88.6 293.8,91.6 292.6,93.9 C291.4,96.2 290.5,98.3 289.4,100.3 C288.3,102.2 287.6,103.6 286.2,105.6 C284.8,107.5 283.0,110.4 280.9,112.0 C278.8,113.6 276.1,114.7 273.4,115.2 C270.7,115.7 267.4,115.9 264.9,115.2 C262.4,114.5 259.9,112.9 258.5,110.9 C257.1,109.0 256.6,106.0 256.4,103.5 C256.2,101.0 256.7,98.3 257.4,96.0 C258.1,93.7 259.9,91.8 260.6,89.7 C261.3,87.6 261.6,85.5 261.7,83.3 C261.8,81.1 261.3,77.6 261.2,76.5Z" stroke-width="1.5" fill="#fff"/>
<path d="M263.6,77.0 L297.0,69.8 L298.2,71.0 L298.0,80.0" stroke-width="0.9" />
<path d="M266.0,79.3 L285.0,75.3" stroke-width="1.0" />
<path d="M266.0,79.3 L266.2,87.0" stroke-width="1.0" />
<path d="M262.8,79.0 C262.9,80.2 263.4,83.8 263.3,86.0 C263.2,88.2 262.7,89.8 262.0,92.0 C261.3,94.2 259.8,96.7 259.3,99.0 C258.8,101.3 258.6,103.9 259.0,106.0 C259.4,108.1 261.5,110.6 262.0,111.5" stroke-width="0.8" />
<g transform="translate(291.5,79.5) rotate(-14)"><rect x="-5.5" y="-4.8" width="11" height="9.6" rx="1.5" stroke-width="1.1" fill="#fff"/><path d="M-1.5,-4.8 Q0.5,0 -1.5,4.8 M1.2,-4.8 Q3.2,0 1.2,4.8 M3.8,-4.8 Q5.8,0 3.8,4.8" stroke-width="1.3"/></g>
<ellipse cx="274.5" cy="97" rx="11.1" ry="11.9" stroke-width="2.6" fill="#fff"/>
<ellipse cx="274.3" cy="97" rx="9" ry="9.7" stroke-width="1.0"/>
<circle cx="273.8" cy="97.2" r="6.3" stroke-width="3.6" stroke-dasharray="5.2 2.7" transform="rotate(20 273.8 97.2)"/>
<circle cx="273.5" cy="97.2" r="3.3" stroke-width="1.2" fill="#fff"/>
<path d="M265.5,103.0 C266.2,103.8 268.1,106.6 270.0,107.5 C271.9,108.4 274.8,108.9 277.0,108.5 C279.2,108.1 282.0,105.6 283.0,105.0" stroke-width="1.4" />
<circle cx="265.4" cy="76.9" r="1.0" fill="#000" stroke="none"/>
<circle cx="280.9" cy="73.2" r="1.0" fill="#000" stroke="none"/>
<circle cx="296.3" cy="68.9" r="1.0" fill="#000" stroke="none"/>
<circle cx="295.7" cy="85.9" r="1.0" fill="#000" stroke="none"/>
<circle cx="261.7" cy="93.4" r="1.0" fill="#000" stroke="none"/>
<circle cx="265.4" cy="111.5" r="1.0" fill="#000" stroke="none"/>
<circle cx="284" cy="107.7" r="1.0" fill="#000" stroke="none"/>
<path d="M306.1,106 L341.8,96.8 Q344.2,96.6 344.6,99.5 L345.2,112 L345.2,112.0 C344.8,113.3 343.6,117.4 342.9,119.7 C342.1,122.0 341.8,123.8 340.7,126.1 C339.6,128.4 338.1,131.4 336.5,133.5 C334.9,135.6 333.1,137.3 331.1,138.9 C329.2,140.5 327.1,141.9 324.8,143.1 C322.5,144.2 319.8,145.5 317.3,145.8 C314.8,146.2 312.1,146.0 309.8,145.2 C307.5,144.4 305.0,142.8 303.5,141.0 C302.0,139.2 301.1,136.9 300.8,134.6 C300.5,132.3 301.0,129.2 301.9,127.1 C302.8,125.0 305.4,122.7 306.1,121.8Z" stroke-width="1.9" fill="#fff"/>
<path d="M306.1,106.0 L306.3,121.5" stroke-width="2.2" />
<path d="M306.5,106.5 L313.5,104.8 L314.0,121.5 L307.0,122.5Z" stroke-width="1.0" fill="#222"/>
<path d="M307.5,107.5 L341.5,98.8" stroke-width="1.6" />
<path d="M308.8,122.9 L341.8,116.5" stroke-width="1.2" />
<g transform="translate(326,113.3) rotate(-12)"><rect x="-12" y="-6.6" width="24" height="13.2" rx="1.5" stroke-width="1.4" fill="#fff"/><ellipse cx="-12" cy="0" rx="2.2" ry="6.6" stroke-width="1.5" fill="#fff"/><path d="M-10,-5.5 Q-4,-7 2,-6" stroke-width="1.2"/></g>
<g transform="translate(341.3,109.8) rotate(-12)"><rect x="-3.6" y="-6.6" width="7.2" height="13.2" rx="2" stroke-width="1.2" fill="#fff"/></g>
<path d="M308.2,108.0 L308.8,121.0" stroke-width="1.6" />
<path d="M305.6,127.1 C305.4,128.3 304.0,132.1 304.3,134.6 C304.6,137.1 307.1,140.8 307.7,142.1" stroke-width="2.4" />
<path d="M312.0,124.0 C313.3,123.6 317.2,122.0 320.0,121.5 C322.8,121.0 327.5,120.9 329.0,120.8" stroke-width="0.9" />
<path d="M331.1,121.8 C331.3,122.8 332.3,125.8 332.4,127.5 C332.5,129.2 331.6,131.2 331.5,132.0" stroke-width="0.9" />
<ellipse cx="323.7" cy="133" rx="5.3" ry="5.8" stroke-width="1.8" fill="#fff"/>
<ellipse cx="324.2" cy="133.6" rx="3" ry="3.3" stroke-width="1.4" fill="#fff"/>
<path d="M47.5,143.5 L33.5,171.0" stroke-width="0.65" stroke="#333"/>
<path d="M81.0,165.5 L47.4,191.5" stroke-width="0.65" stroke="#333"/>
<path d="M94.0,190.5 L64.1,204.3" stroke-width="0.65" stroke="#333"/>
<path d="M189.4,114.8 L217.3,109.8" stroke-width="0.65" stroke="#333"/>
<path d="M242.6,78.6 L243.9,100.0" stroke-width="0.65" stroke="#333"/>
<path d="M219.3,137.5 L219.3,159.0" stroke-width="0.65" stroke="#333"/>
<path d="M285.4,213.3 L312.6,190.6" stroke-width="0.65" stroke="#333"/>
<path d="M308.2,225.0 L325.8,201.6" stroke-width="0.65" stroke="#333"/>
<path d="M329.3,238.0 L337.0,212.7" stroke-width="0.65" stroke="#333"/>
<path d="M424.0,164.4 L388.6,194.1" stroke-width="0.65" stroke="#333"/>
<path d="M446.4,242.9 L421.9,262.6" stroke-width="0.65" stroke="#333"/>
<path d="M411.0,324.0 L431.0,291.8" stroke-width="0.65" stroke="#333"/>
<path d="M294.8,363.5 L285.2,387.7" stroke-width="0.65" stroke="#333"/>
<path d="M327.8,378.2 L301.4,398.0" stroke-width="0.65" stroke="#333"/>
<path d="M243.6,449.3 L306.4,443.6" stroke-width="0.65" stroke="#333"/>
<path d="M396.8,442.0 L377.0,461.8" stroke-width="0.65" stroke="#333"/>
<path d="M409.3,456.7 L397.5,477.3" stroke-width="0.65" stroke="#333"/>
<path d="M427.6,468.7 L412.3,485.7" stroke-width="0.65" stroke="#333"/>
<path d="M648.4,375.0 L639.6,454.1" stroke-width="0.65" stroke="#333"/>
<path d="M661.6,414.5 L652.8,464.4" stroke-width="0.65" stroke="#333"/>
<path d="M677.7,439.4 L676.4,474.7" stroke-width="0.65" stroke="#333"/>
<text x="45" y="142" font-family="Liberation Sans" font-size="10.2" fill="#111" stroke="#111" stroke-width="0.4">10</text>
<text x="81" y="166" font-family="Liberation Sans" font-size="10.2" fill="#111" stroke="#111" stroke-width="0.4">9</text>
<text x="94.5" y="190" font-family="Liberation Sans" font-size="10.2" fill="#111" stroke="#111" stroke-width="0.4">8</text>
<text x="182" y="119.4" font-family="Liberation Sans" font-size="10.2" fill="#111" stroke="#111" stroke-width="0.4">1</text>
<text x="238.4" y="76.7" font-family="Liberation Sans" font-size="10.2" fill="#111" stroke="#111" stroke-width="0.4">2</text>
<text x="215.6" y="169" font-family="Liberation Sans" font-size="10.2" fill="#111" stroke="#111" stroke-width="0.4">3</text>
<text x="279.5" y="219.2" font-family="Liberation Sans" font-size="10.2" fill="#111" stroke="#111" stroke-width="0.4">4</text>
<text x="303" y="232.4" font-family="Liberation Sans" font-size="10.2" fill="#111" stroke="#111" stroke-width="0.4">5</text>
<text x="325.4" y="247.4" font-family="Liberation Sans" font-size="10.2" fill="#111" stroke="#111" stroke-width="0.4">6</text>
<text x="426.3" y="167.9" font-family="Liberation Sans" font-size="10.2" fill="#111" stroke="#111" stroke-width="0.4">12</text>
<text x="447" y="246.1" font-family="Liberation Sans" font-size="10.2" fill="#111" stroke="#111" stroke-width="0.4">6</text>
<text x="407.2" y="332.9" font-family="Liberation Sans" font-size="10.2" fill="#111" stroke="#111" stroke-width="0.4">7</text>
<text x="290.4" y="360.6" font-family="Liberation Sans" font-size="10.2" fill="#111" stroke="#111" stroke-width="0.4">7</text>
<text x="327.8" y="380.4" font-family="Liberation Sans" font-size="10.2" fill="#111" stroke="#111" stroke-width="0.4">6</text>
<text x="232.1" y="454.3" font-family="Liberation Sans" font-size="10.2" fill="#111" stroke="#111" stroke-width="0.4">11</text>
<text x="396.8" y="442.8" font-family="Liberation Sans" font-size="10.2" fill="#111" stroke="#111" stroke-width="0.4">6</text>
<text x="407.1" y="454.5" font-family="Liberation Sans" font-size="10.2" fill="#111" stroke="#111" stroke-width="0.4">5</text>
<text x="427.6" y="470.4" font-family="Liberation Sans" font-size="10.2" fill="#111" stroke="#111" stroke-width="0.4">4</text>
<text x="645.5" y="373.5" font-family="Liberation Sans" font-size="10.2" fill="#111" stroke="#111" stroke-width="0.4">8</text>
<text x="658.7" y="413" font-family="Liberation Sans" font-size="10.2" fill="#111" stroke="#111" stroke-width="0.4">9</text>
<text x="673.3" y="438" font-family="Liberation Sans" font-size="10.2" fill="#111" stroke="#111" stroke-width="0.4">10</text>
</g>
</svg>
</body></html>
